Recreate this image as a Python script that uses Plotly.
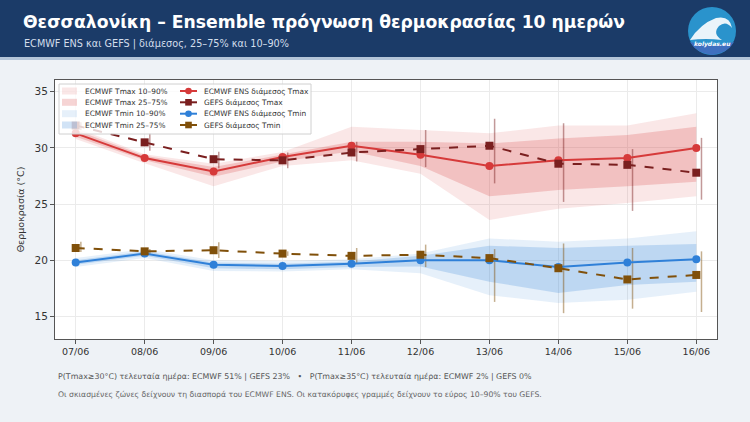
import plotly.graph_objects as go

# ---------------- data ----------------
dates = ["07/06", "08/06", "09/06", "10/06", "11/06", "12/06", "13/06", "14/06", "15/06", "16/06"]

ecmwf_tmax_med = [31.3, 29.1, 27.9, 29.2, 30.2, 29.4, 28.4, 28.9, 29.1, 30.0]
ecmwf_tmax_p25 = [31.0, 28.9, 27.45, 28.8, 29.7, 28.4, 25.7, 26.25, 26.6, 27.0]
ecmwf_tmax_p75 = [31.6, 29.3, 28.3, 29.45, 30.55, 30.55, 30.4, 30.85, 31.15, 31.9]
ecmwf_tmax_p10 = [30.8, 28.65, 26.6, 28.4, 28.9, 27.7, 23.6, 24.6, 25.1, 25.7]
ecmwf_tmax_p90 = [31.8, 29.45, 28.6, 29.65, 31.9, 31.6, 31.3, 32.0, 32.0, 33.1]

gefs_tmax_med = [32.0, 30.5, 29.0, 28.9, 29.6, 29.9, 30.2, 28.6, 28.5, 27.8]
gefs_tmax_p10 = [31.6, 29.75, 28.2, 28.2, 28.8, 28.3, 26.85, 25.2, 24.4, 25.4]
gefs_tmax_p90 = [32.3, 31.3, 29.66, 29.6, 30.55, 31.6, 32.6, 32.2, 29.9, 30.9]

ecmwf_tmin_med = [19.8, 20.6, 19.6, 19.5, 19.7, 20.0, 20.0, 19.4, 19.8, 20.1]
ecmwf_tmin_p25 = [19.6, 20.4, 19.3, 19.2, 19.4, 19.45, 18.1, 17.1, 17.8, 18.1]
ecmwf_tmin_p75 = [20.0, 20.8, 19.8, 19.7, 19.9, 20.4, 21.3, 21.1, 21.3, 21.45]
ecmwf_tmin_p10 = [19.4, 20.2, 19.05, 19.0, 19.2, 18.85, 16.9, 16.2, 16.5, 17.2]
ecmwf_tmin_p90 = [20.2, 21.0, 20.0, 19.95, 20.1, 20.6, 21.95, 21.65, 21.95, 22.6]

gefs_tmin_med = [21.1, 20.8, 20.9, 20.6, 20.4, 20.5, 20.2, 19.3, 18.3, 18.7]
gefs_tmin_p10 = [20.75, 20.5, 20.2, 20.4, 19.7, 19.4, 16.3, 15.3, 15.7, 15.4]
gefs_tmin_p90 = [21.65, 21.0, 21.6, 20.8, 21.1, 21.4, 21.0, 21.5, 21.1, 20.8]

title = "Θεσσαλονίκη – Ensemble πρόγνωση θερμοκρασίας 10 ημερών"
subtitle = "ECMWF ENS και GEFS | διάμεσος, 25–75% και 10–90%"
note1 = "P(Tmax≥30°C) τελευταία ημέρα: ECMWF 51% | GEFS 23%   •   P(Tmax≥35°C) τελευταία ημέρα: ECMWF 2% | GEFS 0%"
note2 = "Οι σκιασμένες ζώνες δείχνουν τη διασπορά του ECMWF ENS. Οι κατακόρυφες γραμμές δείχνουν το εύρος 10–90% του GEFS."

# ---------------- styling ----------------
FONT = "DejaVu Sans"
RED = "#d63a3a"
DRED = "#7a1f1f"
BLUE = "#2f80d8"
BROWN = "#80500a"
RED_L = "rgba(214,58,58,0.12)"
RED_D = "rgba(214,58,58,0.22)"
BLUE_L = "rgba(47,128,216,0.12)"
BLUE_D = "rgba(47,128,216,0.22)"

W, H = 750, 422
L, R, T, B = 55, 33, 80, 83
PW, PH = W - L - R, H - T - B


def px(x):
    return (x - L) / PW


def py(y):
    return (H - B - y) / PH


xs = list(range(len(dates)))
OFF = 0.075

fig = go.Figure()


def band(lo, hi, color):
    fig.add_trace(go.Scatter(x=xs, y=lo, mode="lines", line=dict(width=0), hoverinfo="skip", showlegend=False))
    fig.add_trace(go.Scatter(x=xs, y=hi, mode="lines", line=dict(width=0), fill="tonexty",
                             fillcolor=color, hoverinfo="skip", showlegend=False))


band(ecmwf_tmax_p10, ecmwf_tmax_p90, RED_L)
band(ecmwf_tmax_p25, ecmwf_tmax_p75, RED_D)
band(ecmwf_tmin_p10, ecmwf_tmin_p90, BLUE_L)
band(ecmwf_tmin_p25, ecmwf_tmin_p75, BLUE_D)


def vbars(lo, hi, color):
    bx, by = [], []
    for i, (a, b) in enumerate(zip(lo, hi)):
        bx += [i + OFF, i + OFF, None]
        by += [a, b, None]
    fig.add_trace(go.Scatter(x=bx, y=by, mode="lines", line=dict(color=color, width=1.5),
                             opacity=0.45, hoverinfo="skip", showlegend=False))


vbars(gefs_tmax_p10, gefs_tmax_p90, DRED)
vbars(gefs_tmin_p10, gefs_tmin_p90, BROWN)

fig.add_trace(go.Scatter(x=xs, y=ecmwf_tmax_med, mode="lines+markers", name="ECMWF ENS διάμεσος Tmax",
                         line=dict(color=RED, width=2), marker=dict(symbol="circle", size=8, color=RED), showlegend=False))
fig.add_trace(go.Scatter(x=xs, y=gefs_tmax_med, mode="lines+markers", name="GEFS διάμεσος Tmax",
                         line=dict(color=DRED, width=2, dash="dash"), marker=dict(symbol="square", size=8, color=DRED), showlegend=False))
fig.add_trace(go.Scatter(x=xs, y=ecmwf_tmin_med, mode="lines+markers", name="ECMWF ENS διάμεσος Tmin",
                         line=dict(color=BLUE, width=2), marker=dict(symbol="circle", size=8, color=BLUE), showlegend=False))
fig.add_trace(go.Scatter(x=xs, y=gefs_tmin_med, mode="lines+markers", name="GEFS διάμεσος Tmin",
                         line=dict(color=BROWN, width=2, dash="dash"), marker=dict(symbol="square", size=8, color=BROWN), showlegend=False))

shapes = []
annotations = []

# header
shapes.append(dict(type="rect", xref="paper", yref="paper", x0=px(0), x1=px(W), y0=py(57), y1=py(0),
                   fillcolor="#1b3b68", line=dict(width=0), layer="below"))
shapes.append(dict(type="rect", xref="paper", yref="paper", x0=px(0), x1=px(W), y0=py(60), y1=py(57),
                   fillcolor="#b4c5d9", line=dict(width=0), layer="below"))
annotations.append(dict(text="<b>" + title + "</b>", xref="paper", yref="paper", x=px(21), y=py(22),
                        xanchor="left", yanchor="middle", showarrow=False,
                        font=dict(family=FONT, size=17.2, color="white")))
annotations.append(dict(text=subtitle, xref="paper", yref="paper", x=px(22), y=py(44),
                        xanchor="left", yanchor="middle", showarrow=False,
                        font=dict(family=FONT, size=9.7, color="#d3deeb")))

# logo
cx, cy, r = 712, 31, 24
shapes.append(dict(type="circle", xref="paper", yref="paper", x0=px(cx - r), x1=px(cx + r),
                   y0=py(cy + r), y1=py(cy - r), fillcolor="#2a93cc", line=dict(width=0)))


def P(x, y):
    return f"{px(x):.5f},{py(y):.5f}"


lower = ("M " + P(690, 42) + " Q " + P(712, 48) + " " + P(734, 42) +
         " Q " + P(728, 53) + " " + P(712, 55) + " Q " + P(696, 53) + " " + P(690, 42) + " Z")
shapes.append(dict(type="path", xref="paper", yref="paper", path=lower, fillcolor="#3f6fbf", line=dict(width=0)))
wave = ("M " + P(690, 40) + " Q " + P(700, 24) + " " + P(716, 18) + " Q " + P(730, 15) + " " + P(732, 28) +
        " Q " + P(726, 20) + " " + P(719, 26) + " Q " + P(712, 34) + " " + P(722, 40) +
        " Q " + P(706, 38) + " " + P(690, 40) + " Z")
shapes.append(dict(type="path", xref="paper", yref="paper", path=wave, fillcolor="rgba(255,255,255,0.9)", line=dict(width=0)))
annotations.append(dict(text="<i><b>kolydas.eu</b></i>", xref="paper", yref="paper", x=px(712), y=py(44),
                        xanchor="center", yanchor="middle", showarrow=False,
                        font=dict(family=FONT, size=6, color="white")))

# manual legend
shapes.append(dict(type="rect", xref="paper", yref="paper", x0=px(59), x1=px(311), y0=py(134), y1=py(84),
                   fillcolor="rgba(255,255,255,0.8)", line=dict(color="#d0d0d0", width=1), layer="above"))
rows = [91, 102.3, 113.7, 125]
col1 = [("ECMWF Tmax 10–90%", RED_L), ("ECMWF Tmax 25–75%", RED_D),
        ("ECMWF Tmin 10–90%", BLUE_L), ("ECMWF Tmin 25–75%", BLUE_D)]
for (lab, col), yy in zip(col1, rows):
    shapes.append(dict(type="rect", xref="paper", yref="paper", x0=px(62), x1=px(77), y0=py(yy + 3.5), y1=py(yy - 3.5),
                       fillcolor=col, line=dict(width=0), layer="above"))
    annotations.append(dict(text=lab, xref="paper", yref="paper", x=px(83), y=py(yy), xanchor="left",
                            yanchor="middle", showarrow=False, font=dict(family=FONT, size=7.4, color="#333333")))
col2 = [("ECMWF ENS διάμεσος Tmax", RED, "circle"), ("GEFS διάμεσος Tmax", DRED, "square"),
        ("ECMWF ENS διάμεσος Tmin", BLUE, "circle"), ("GEFS διάμεσος Tmin", BROWN, "square")]
for (lab, col, sym), yy in zip(col2, rows):
    shapes.append(dict(type="line", xref="paper", yref="paper", x0=px(180), x1=px(197), y0=py(yy), y1=py(yy),
                       line=dict(color=col, width=2), layer="above"))
    s = 3.3
    shapes.append(dict(type="circle" if sym == "circle" else "rect", xref="paper", yref="paper",
                       x0=px(188.5 - s), x1=px(188.5 + s), y0=py(yy + s), y1=py(yy - s),
                       fillcolor=col, line=dict(width=0), layer="above"))
    annotations.append(dict(text=lab, xref="paper", yref="paper", x=px(202), y=py(yy), xanchor="left",
                            yanchor="middle", showarrow=False, font=dict(family=FONT, size=7.4, color="#333333")))

# footnotes
annotations.append(dict(text=note1, xref="paper", yref="paper", x=px(56), y=py(376), xanchor="left",
                        yanchor="middle", showarrow=False, font=dict(family=FONT, size=7.9, color="#555555")))
annotations.append(dict(text=note2, xref="paper", yref="paper", x=px(56), y=py(394), xanchor="left",
                        yanchor="middle", showarrow=False, font=dict(family=FONT, size=7.7, color="#666666")))

fig.update_layout(
    width=W, height=H, margin=dict(l=L, r=R, t=T, b=B),
    paper_bgcolor="#eef2f6", plot_bgcolor="white",
    shapes=shapes, annotations=annotations, showlegend=False,
    font=dict(family=FONT, color="#333333"),
)
fig.update_xaxes(range=[-0.3, 9.3], tickvals=xs, ticktext=dates, showgrid=True, gridcolor="#ebebeb",
                 zeroline=False, showline=True, linecolor="#555555", linewidth=1, mirror=True,
                 ticks="outside", ticklen=4, tickcolor="#555555", tickfont=dict(size=9.5, color="#333333"))
fig.update_yaxes(range=[13.0, 36.05], tickvals=[15, 20, 25, 30, 35], showgrid=True, gridcolor="#ebebeb",
                 zeroline=False, showline=True, linecolor="#555555", linewidth=1, mirror=True,
                 ticks="outside", ticklen=4, tickcolor="#555555", tickfont=dict(size=10.5, color="#333333"),
                 title=dict(text="Θερμοκρασία (°C)", font=dict(size=9.5, color="#333333"), standoff=8))

fig.write_html("out.html")
